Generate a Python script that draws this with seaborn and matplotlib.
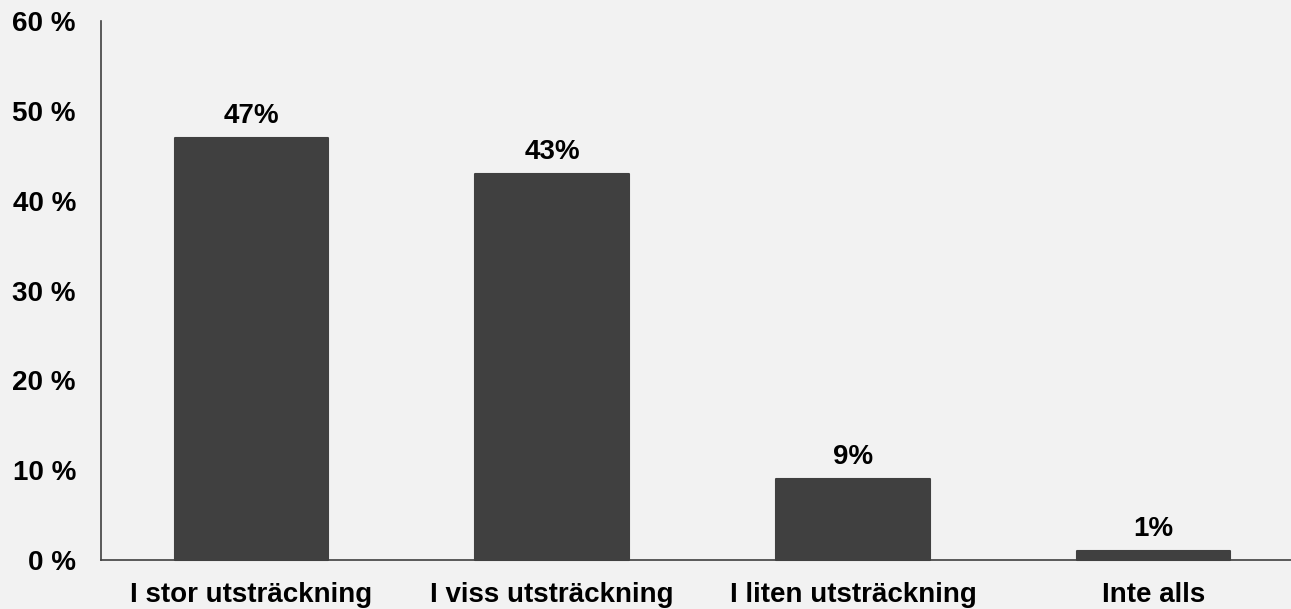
import matplotlib.pyplot as plt
import seaborn as sns

categories = ['I stor utsträckning', 'I viss utsträckning', 'I liten utsträckning', 'Inte alls']
values = [47, 43, 9, 1]
yticks = [0, 10, 20, 30, 40, 50, 60]

BG = '#f2f2f2'
BAR = '#404040'

sns.set_theme(style='white')
plt.rcParams['font.family'] = ['Liberation Sans', 'DejaVu Sans']
plt.rcParams['font.weight'] = 'bold'

fig = plt.figure(figsize=(12.91, 6.09), dpi=100, facecolor=BG)
ax = fig.add_axes([0.0782, 0.0805, 0.932, 0.8842])
ax.set_facecolor(BG)

sns.barplot(x=categories, y=values, color=BAR, width=0.51, saturation=1,
            edgecolor=BAR, linewidth=1.5, ax=ax)
# slightly rounded corners like the original
for p in ax.patches:
    p.set_joinstyle('round')
    p.set_clip_on(False)
    p.set_zorder(1)

for i, v in enumerate(values):
    ax.annotate(f'{v}%', (i, v), xytext=(0, 6.5), textcoords='offset points',
                ha='center', va='bottom', fontsize=20, fontweight='bold', color='black')

ax.set_ylim(0, 60)
ax.set_xlim(-0.5, len(categories) - 0.5)
ax.set_yticks(yticks)
ax.set_yticklabels([f'{t} %' for t in yticks])
ax.tick_params(axis='y', length=0, pad=18, labelsize=20, labelcolor='black')
ax.tick_params(axis='x', length=0, pad=15.5, labelsize=20, labelcolor='black')
for lab in ax.get_xticklabels() + ax.get_yticklabels():
    lab.set_fontweight('bold')

ax.spines['top'].set_visible(False)
ax.spines['right'].set_visible(False)
for s in ['left', 'bottom']:
    ax.spines[s].set_color(BAR)
    ax.spines[s].set_linewidth(1.2)
    ax.spines[s].set_zorder(0.5)
ax.set_xlabel('')
ax.set_ylabel('')

fig.savefig('out.png', dpi=100, facecolor=BG)
